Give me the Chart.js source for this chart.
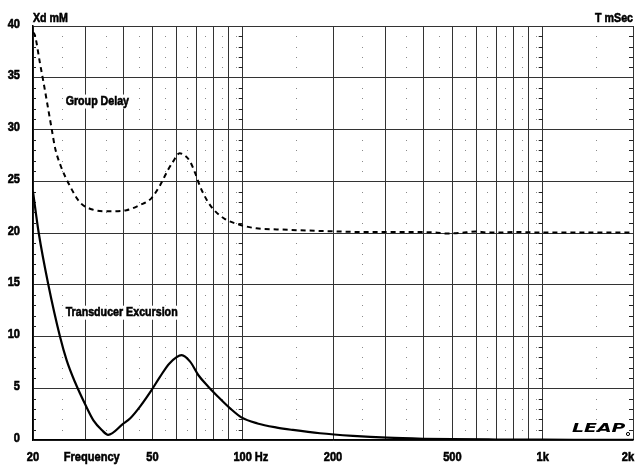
<!DOCTYPE html>
<html>
<head>
<meta charset="utf-8">
<script src="https://cdn.jsdelivr.net/npm/chart.js@4"></script>
<style>
html,body{margin:0;padding:0;background:#fff;}
#c{display:block;}
</style>
</head>
<body>
<canvas id="c" width="640" height="465"></canvas>
<script>
// ---- data ----
const gdFreq = [20, 20.3, 21.1, 21.7, 22.5, 23.1, 23.7, 24.8, 26.6, 28.6, 31.3, 36.1, 41.0, 45.4, 49.6, 53.0, 56.4, 58.6, 61.6, 64.1, 66.8, 69.4, 72.1, 75.9, 79.8, 87.3, 97.7, 111, 130, 181, 250, 350, 440, 480, 530, 600, 650, 720, 800, 1000, 1300, 2000];
const groupDelay = [39.4, 39.1, 36.4, 34.5, 31.9, 30.0, 28.2, 26.4, 24.5, 23.0, 22.3, 22.1, 22.2, 22.7, 23.35, 24.6, 26.1, 26.9, 27.7, 27.5, 26.9, 25.8, 24.5, 23.2, 22.3, 21.35, 20.8, 20.45, 20.35, 20.2, 20.1, 20.1, 20.05, 19.95, 20.0, 20.15, 20.05, 20.05, 20.1, 20.05, 20.05, 20.05];
const exFreq = [20, 20.9, 22.5, 24.6, 25.9, 27.6, 29.9, 31.8, 33.9, 35.6, 39.9, 42.2, 45.4, 49.3, 53.0, 57.0, 62.6, 66.8, 71.1, 76.8, 82.8, 90.8, 99, 112, 130, 147, 181, 233, 303, 400, 500, 700, 1000, 1500, 2000];
const excursion = [24.0, 20.0, 15.0, 10.0, 7.7, 5.6, 3.4, 1.9, 0.97, 0.5, 1.55, 2.1, 3.2, 4.67, 6.1, 7.4, 8.2, 7.57, 6.28, 5.15, 4.18, 3.06, 2.19, 1.6, 1.2, 0.97, 0.65, 0.4, 0.22, 0.12, 0.08, 0.05, 0.03, 0.02, 0.01];
const xMajor = [20, 30, 40, 50, 60, 70, 80, 90, 100, 200, 300, 400, 500, 600, 700, 800, 900, 1000, 2000];
const xLabels = {20: '20', 50: '50', 100: '100', 200: '200', 500: '500', 1000: '1k', 2000: '2k'};
const xMinor = [25, 35, 45, 55, 65, 75, 85, 95, 150, 250, 350, 450, 550, 650, 750, 850, 950, 1500];
const xDecades = [20, 100, 1000, 2000];
const yMin = 0, yMax = 40, yStep = 5;

const FONT = '"Liberation Sans", Arial, sans-serif';
const NARROW = 0.82;

function narrowText(ctx, text, x, y, align, size) {
  ctx.save();
  ctx.font = 'bold ' + size + 'px ' + FONT;
  ctx.textBaseline = 'middle';
  ctx.textAlign = 'left';
  const w = ctx.measureText(text).width * NARROW;
  let x0 = x;
  if (align === 'center') x0 = x - w / 2;
  else if (align === 'right') x0 = x - w;
  ctx.translate(x0, y);
  ctx.scale(NARROW, 1);
  ctx.fillStyle = '#000';
  ctx.strokeStyle = '#000';
  ctx.lineWidth = 0.6;
  ctx.fillText(text, 0, 0);
  ctx.strokeText(text, 0, 0);
  ctx.restore();
  return w;
}

const extras = {
  id: 'extras',
  beforeDatasetsDraw(chart) {
    const ctx = chart.ctx, xs = chart.scales.x, ys = chart.scales.y;
    ctx.save();
    // minor dots
    ctx.fillStyle = '#8a8a8a';
    for (const f of xMinor) {
      const px = Math.round(xs.getPixelForValue(f));
      for (let v = yMin + 1; v < yMax; v++) {
        if (v % yStep === 0) continue;
        const py = Math.round(ys.getPixelForValue(v));
        ctx.fillRect(px, py, 1, 1);
      }
    }
    // short ticks at decade lines
    ctx.fillStyle = '#222';
    for (const f of xDecades) {
      const px = xs.getPixelForValue(f);
      for (let v = yMin + 1; v < yMax; v++) {
        if (v % yStep === 0) continue;
        const py = Math.round(ys.getPixelForValue(v));
        if (f === 20) ctx.fillRect(px, py, 3, 1);
        else ctx.fillRect(px - 4, py, 4, 1);
      }
    }
    // series labels with white backing
    const lbls = [['Group Delay', 25.7, 32.7], ['Transducer Excursion', 25.7, 12.3]];
    for (const [t, f, v] of lbls) {
      const px = xs.getPixelForValue(f), py = ys.getPixelForValue(v);
      ctx.font = 'bold 13px ' + FONT;
      const w = ctx.measureText(t).width * NARROW;
      ctx.fillStyle = '#fff';
      ctx.fillRect(px - 2, py - 7, w + 4, 14);
      narrowText(ctx, t, px, py, 'left', 13);
    }
    ctx.restore();
  },
  afterDraw(chart) {
    const ctx = chart.ctx, xs = chart.scales.x, ys = chart.scales.y, ca = chart.chartArea;
    ctx.save();
    ctx.fillStyle = '#000';
    // axis titles
    narrowText(ctx, 'Xd mM', ca.left, 18, 'left', 13);
    narrowText(ctx, 'T mSec', ca.right, 18, 'right', 13);
    // y tick labels
    for (const t of ys.ticks) {
      narrowText(ctx, String(t.value), ca.left - 13, ys.getPixelForValue(t.value) - 2, 'right', 13.5);
    }
    // x tick labels
    for (const t of xs.ticks) {
      const lab = xLabels[t.value];
      if (!lab) continue;
      let px = xs.getPixelForValue(t.value);
      if (t.value === 2000) px -= 5;
      narrowText(ctx, lab, px, 457, 'center', 13.5);
    }
    narrowText(ctx, 'Frequency', xs.getPixelForValue(31.4), 457, 'center', 13.5);
    narrowText(ctx, 'Hz', xs.getPixelForValue(100) + 12, 457, 'left', 13.5);
    // LEAP logo
    ctx.save();
    ctx.translate(ca.right - 61, ca.bottom - 11);
    ctx.scale(1.45, 1);
    ctx.font = 'italic bold 13px "DejaVu Sans", sans-serif';
    ctx.textAlign = 'left';
    ctx.textBaseline = 'middle';
    ctx.fillText('LEAP', 0, 0);
    ctx.restore();
    ctx.beginPath();
    ctx.arc(ca.right - 5, ca.bottom - 6, 1.6, 0, Math.PI * 2);
    ctx.lineWidth = 1;
    ctx.strokeStyle = '#000';
    ctx.stroke();
    ctx.restore();
  }
};

new Chart(document.getElementById('c'), {
  type: 'line',
  data: {
    datasets: [
      {
        label: 'Group Delay',
        data: gdFreq.map((f, i) => ({x: f, y: groupDelay[i]})),
        borderColor: '#000',
        borderWidth: 2,
        borderDash: [5, 4],
        pointRadius: 0,
        cubicInterpolationMode: 'monotone',
        fill: false
      },
      {
        label: 'Transducer Excursion',
        data: exFreq.map((f, i) => ({x: f, y: excursion[i]})),
        borderColor: '#000',
        borderWidth: 2.2,
        pointRadius: 0,
        cubicInterpolationMode: 'monotone',
        fill: false
      }
    ]
  },
  options: {
    responsive: false,
    animation: false,
    devicePixelRatio: 1,
    layout: {padding: {top: 26, right: 7, left: 0, bottom: 0}},
    plugins: {legend: {display: false}, tooltip: {enabled: false}},
    scales: {
      x: {
        type: 'logarithmic',
        min: 20, max: 2000,
        afterBuildTicks(scale) { scale.ticks = xMajor.map(v => ({value: v})); },
        afterFit(scale) { scale.height = 25; scale.paddingLeft = 0; scale.paddingRight = 0; },
        grid: {color: '#333', lineWidth: 1, drawTicks: false},
        border: {color: '#000', width: 1.5},
        ticks: {display: false, autoSkip: false, maxRotation: 0}
      },
      y: {
        type: 'linear',
        min: yMin, max: yMax,
        afterFit(scale) { scale.width = 33; scale.paddingTop = 0; scale.paddingBottom = 0; },
        grid: {color: '#333', lineWidth: 1, drawTicks: false},
        border: {color: '#000', width: 1.5},
        ticks: {display: false, stepSize: yStep}
      }
    }
  },
  plugins: [extras]
});
</script>
</body>
</html>
